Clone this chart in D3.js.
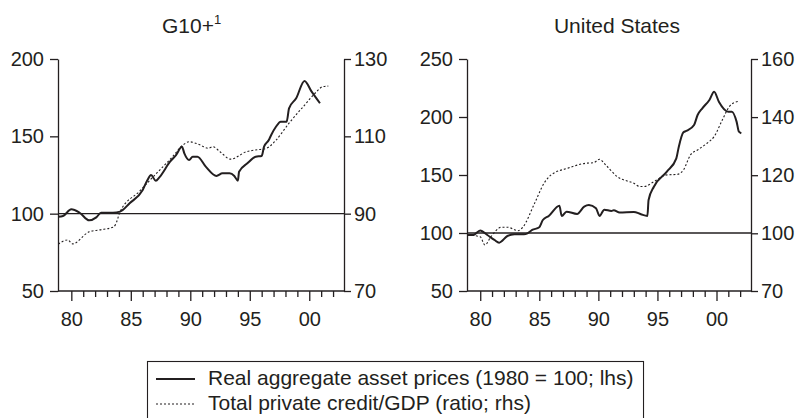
<!DOCTYPE html>
<html>
<head>
<meta charset="utf-8">
<script src="https://cdn.jsdelivr.net/npm/d3@7"></script>
<style>
  html, body { margin: 0; padding: 0; background: #fff; }
  svg { display: block; font-family: "Liberation Sans", Arial, sans-serif; }
</style>
</head>
<body>
<svg id="chart" width="800" height="418"></svg>
<script>
// ---------------- DATA ----------------
const titles = ["G10+", "United States"];
const titleSup = ["1", ""];
const legendLabels = ["Real aggregate asset prices (1980 = 100; lhs)", "Total private credit/GDP (ratio; rhs)"];

const majorYears = [1980, 1985, 1990, 1995, 2000];
const minorYears = [1981,1982,1983,1984,1986,1987,1988,1989,1991,1992,1993,1994,1996,1997,1998,1999,2001,2002];

const g10LeftTicks = [50, 100, 150, 200];
const g10RightTicks = [70, 90, 110, 130];
const usLeftTicks = [50, 100, 150, 200, 250];
const usRightTicks = [70, 100, 120, 140, 160];

// G10+ real aggregate asset prices (lhs)
const g10AssetYears = [1978.9,1979.3,1980.0,1980.7,1981.5,1982.1,1982.5,1983.5,1984.1,1984.9,1986.0,1986.4,1986.7,1987.1,1987.4,1988.3,1988.8,1989.3,1989.5,1989.9,1990.2,1990.6,1991.3,1992.2,1992.7,1993.3,1993.7,1994.0,1994.1,1994.8,1995.5,1996.0,1996.2,1996.6,1996.8,1997.2,1997.6,1998.1,1998.3,1998.9,1999.6,2000.2,2000.9];
const g10AssetVals  = [98.0,98.5,102.8,100.6,95.7,97.6,100.6,100.6,101.3,106.7,115.3,121.8,125.0,121.3,123.5,133.6,137.9,143.3,139.0,134.7,136.8,136.8,130.4,124.4,126.1,126.1,124.4,121.3,127.1,132.6,136.8,137.3,143.3,147.6,150.9,156.2,159.5,159.5,168.1,174.6,185.8,178.9,171.4];

// G10+ total private credit / GDP (rhs)
const g10CreditYears = [1978.9,1979.7,1980.1,1981.5,1982.4,1983.5,1983.7,1984.1,1985.7,1986.9,1988.5,1989.4,1989.9,1990.8,1991.5,1991.9,1992.5,1993.4,1994.7,1995.8,1996.4,1997.2,1998.3,1999.5,2000.6,2001.1,2001.6];
const g10CreditVals  = [82.1,83.2,82.2,85.3,85.8,86.5,87.1,90.5,95.7,99.6,104.7,107.8,108.6,107.8,106.9,107.3,106.0,104.1,106.0,106.6,106.9,109.0,113.4,117.7,121.5,122.8,123.0];

// United States real aggregate asset prices (lhs)
const usAssetYears = [1978.96,1979.4,1980.0,1980.6,1981.2,1981.6,1982.3,1982.9,1983.7,1984.0,1984.4,1985.0,1985.3,1985.8,1986.7,1986.9,1987.3,1988.2,1988.8,1989.2,1989.8,1990.1,1990.5,1991.1,1991.3,1991.8,1993.0,1993.6,1994.15,1994.25,1994.7,1995.8,1996.6,1996.8,1997.2,1997.5,1998.1,1998.4,1998.8,1999.4,1999.8,2000.2,2001.0,2001.3,2001.7,2001.9,2002.1];
const usAssetVals  = [98.3,98.3,102.2,98.3,94.0,91.7,97.4,98.9,98.9,99.7,102.6,104.9,111.2,114.7,123.5,114.7,118.4,116.4,122.7,124.1,121.3,114.7,120.1,119.0,119.6,117.6,118.2,116.2,114.7,128.4,139.9,152.9,164.4,174.0,186.8,188.2,193.1,201.7,207.5,214.7,221.8,213.2,204.6,204.6,196.0,187.3,186.0];

// United States total private credit / GDP (rhs)
const usCreditYears = [1978.96,1980.0,1980.4,1980.9,1981.8,1982.3,1983.2,1983.6,1984.6,1985.4,1986.0,1987.4,1988.9,1989.6,1990.1,1990.6,1991.6,1993.0,1993.5,1993.9,1994.7,1995.8,1996.7,1997.2,1997.8,1998.4,1999.2,1999.8,2000.5,2001.1,2001.5,2001.9];
const usCreditVals  = [99.1,98.2,93.9,98.2,102.1,102.1,100.9,102.1,110.3,117.2,120.1,122.4,124.1,124.3,125.5,123.6,119.5,117.2,116.1,116.1,117.8,120.1,120.3,121.8,127.0,128.7,131.0,133.3,139.1,143.7,145.0,145.4];

// ---------------- DRAW ----------------
const ink = "#231f20";
const svg = d3.select("#chart");
const FS = 20;
const FS_TITLE = 21;

const yearDomain = [1978.88, 2002.92];

const panels = [
  {
    title: titles[0], sup: titleSup[0], titleX: 162, anchor: "start",
    x0: 58, x1: 344,
    left: d3.scaleLinear().domain([50, 200]).range([291, 59]),
    right: d3.scaleLinear().domain([70, 130]).range([291, 59]),
    leftTicks: g10LeftTicks, rightTicks: g10RightTicks,
    asset: g10AssetYears.map((y, i) => [y, g10AssetVals[i]]),
    credit: g10CreditYears.map((y, i) => [y, g10CreditVals[i]])
  },
  {
    title: titles[1], sup: titleSup[1], titleX: 617, anchor: "middle",
    x0: 467, x1: 751,
    left: d3.scaleLinear().domain([50, 250]).range([291, 59]),
    right: d3.scaleLinear().domain([70, 100, 160]).range([291, 233.3, 59]),
    leftTicks: usLeftTicks, rightTicks: usRightTicks,
    asset: usAssetYears.map((y, i) => [y, usAssetVals[i]]),
    credit: usCreditYears.map((y, i) => [y, usCreditVals[i]])
  }
];

function styleAxis(g) {
  g.selectAll("path.domain").attr("stroke", ink).attr("stroke-width", 1.3);
  g.selectAll(".tick line").attr("stroke", ink).attr("stroke-width", 1.3);
  g.selectAll(".tick text").attr("fill", ink).attr("font-size", FS)
    .attr("font-family", "'Liberation Sans', Arial, sans-serif");
}

panels.forEach(p => {
  const x = d3.scaleLinear().domain(yearDomain).range([p.x0, p.x1]);

  // title
  const t = svg.append("text")
    .attr("x", p.titleX).attr("y", 33)
    .attr("text-anchor", p.anchor)
    .attr("font-size", FS_TITLE).attr("fill", ink)
    .text(p.title);
  if (p.sup) {
    t.append("tspan").attr("font-size", 13).attr("dy", -9).text(p.sup);
  }

  // left axis
  const gl = svg.append("g").attr("transform", `translate(${p.x0},0)`)
    .call(d3.axisLeft(p.left).tickValues(p.leftTicks).tickSize(8).tickSizeOuter(0).tickPadding(6).tickFormat(d3.format("d")));
  styleAxis(gl);

  // right axis
  const gr = svg.append("g").attr("transform", `translate(${p.x1},0)`)
    .call(d3.axisRight(p.right).tickValues(p.rightTicks).tickSize(7).tickSizeOuter(0).tickPadding(3).tickFormat(d3.format("d")));
  styleAxis(gr);

  // bottom axis: major
  const gb = svg.append("g").attr("transform", `translate(0,291)`)
    .call(d3.axisBottom(x).tickValues(majorYears).tickSize(10).tickSizeOuter(0).tickPadding(11)
      .tickFormat(d => String(d % 100).padStart(2, "0")));
  styleAxis(gb);
  gb.select("path.domain").remove();

  // bottom axis: minor
  const gm = svg.append("g").attr("transform", `translate(0,291)`)
    .call(d3.axisBottom(x).tickValues(minorYears).tickSize(6).tickSizeOuter(0).tickFormat(""));
  styleAxis(gm);
  gm.select("path.domain").remove();

  // bottom axis line
  svg.append("line")
    .attr("x1", p.x0).attr("x2", p.x1)
    .attr("y1", 291).attr("y2", 291)
    .attr("stroke", ink).attr("stroke-width", 1.3);

  // reference line at 100
  svg.append("line")
    .attr("x1", p.x0).attr("x2", p.x1)
    .attr("y1", p.left(100)).attr("y2", p.left(100))
    .attr("stroke", ink).attr("stroke-width", 1.4);

  // credit (dotted, rhs)
  const lineR = d3.line().x(d => x(d[0])).y(d => p.right(d[1])).curve(d3.curveMonotoneX);
  svg.append("path").datum(p.credit)
    .attr("d", lineR).attr("fill", "none")
    .attr("stroke", ink).attr("stroke-width", 1.1)
    .attr("stroke-dasharray", "2,2");

  // asset prices (solid, lhs)
  const lineL = d3.line().x(d => x(d[0])).y(d => p.left(d[1])).curve(d3.curveMonotoneX);
  svg.append("path").datum(p.asset)
    .attr("d", lineL).attr("fill", "none")
    .attr("stroke", ink).attr("stroke-width", 2)
    .attr("stroke-linejoin", "round");
});

// ---------------- LEGEND ----------------
const lg = svg.append("g");
const legendTextX = 208;
const rows = [385, 410];
const texts = legendLabels.map((lab, i) =>
  lg.append("text").attr("x", legendTextX).attr("y", rows[i])
    .attr("font-size", FS_TITLE).attr("fill", ink).text(lab));
const maxW = d3.max(texts, t => t.node().getComputedTextLength());
lg.insert("rect", ":first-child")
  .attr("x", 147.5).attr("y", 361.5)
  .attr("width", legendTextX + maxW + 10 - 147.5).attr("height", 80)
  .attr("fill", "none").attr("stroke", ink).attr("stroke-width", 1.1);
lg.append("line").attr("x1", 156).attr("x2", 195).attr("y1", rows[0] - 6).attr("y2", rows[0] - 6)
  .attr("stroke", ink).attr("stroke-width", 2.2);
lg.append("line").attr("x1", 156).attr("x2", 195).attr("y1", rows[1] - 6).attr("y2", rows[1] - 6)
  .attr("stroke", ink).attr("stroke-width", 1.1).attr("stroke-dasharray", "2,2");
</script>
</body>
</html>
